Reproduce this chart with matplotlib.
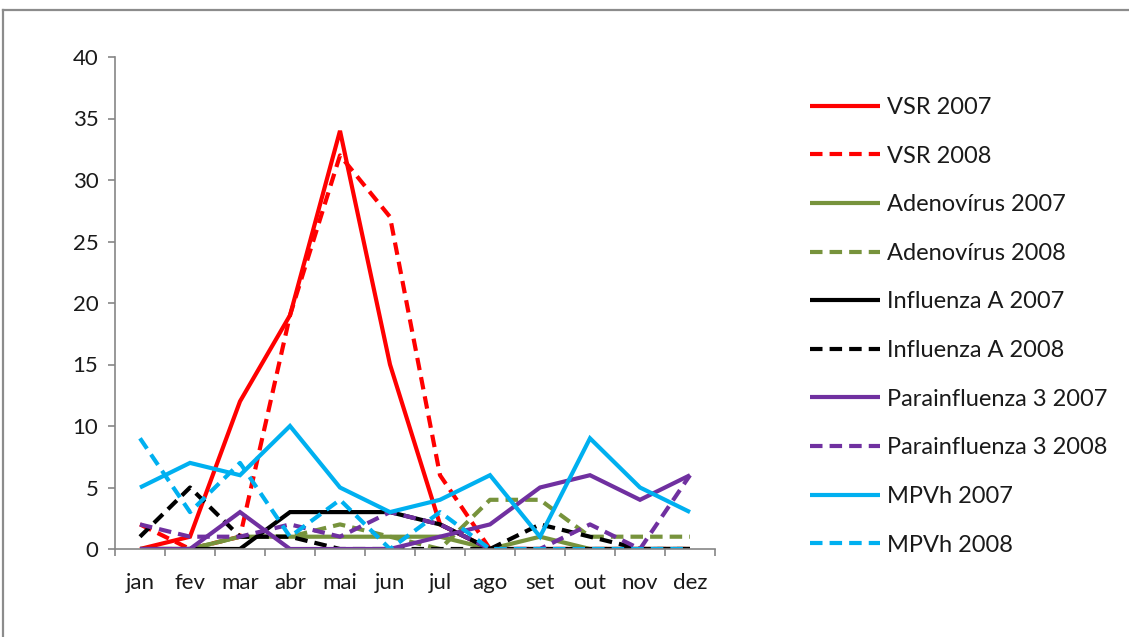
import matplotlib
matplotlib.use("Agg")
import matplotlib.pyplot as plt
from matplotlib.lines import Line2D

plt.rcParams["font.family"] = ["Lato", "DejaVu Sans"]

months = ["jan", "fev", "mar", "abr", "mai", "jun",
          "jul", "ago", "set", "out", "nov", "dez"]

vsr_2007 = [0, 1, 12, 19, 34, 15, 2, 0, 0, 0, 0, 0]
vsr_2008 = [2, 0, 1, 19, 32, 27, 6, 0, 0, 0, 0, 0]
adeno_2007 = [0, 0, 1, 1, 1, 1, 1, 0, 1, 0, 0, 0]
adeno_2008 = [0, 0, 1, 1, 2, 1, 0, 4, 4, 1, 1, 1]
flu_a_2007 = [0, 0, 0, 3, 3, 3, 2, 0, 0, 0, 0, 0]
flu_a_2008 = [1, 5, 1, 1, 0, 0, 0, 0, 2, 1, 0, 0]
para3_2007 = [0, 0, 3, 0, 0, 0, 1, 2, 5, 6, 4, 6]
para3_2008 = [2, 1, 1, 2, 1, 3, 2, 0, 0, 2, 0, 6]
mpvh_2007 = [5, 7, 6, 10, 5, 3, 4, 6, 1, 9, 5, 3]
mpvh_2008 = [9, 3, 7, 1, 4, 0, 3, 0, 0, 0, 0, 0]

series = [
    ("VSR 2007", vsr_2007, "#FF0000", "-"),
    ("VSR 2008", vsr_2008, "#FF0000", "--"),
    ("Adenovírus 2007", adeno_2007, "#77933C", "-"),
    ("Adenovírus 2008", adeno_2008, "#77933C", "--"),
    ("Influenza A 2007", flu_a_2007, "#000000", "-"),
    ("Influenza A 2008", flu_a_2008, "#000000", "--"),
    ("Parainfluenza 3 2007", para3_2007, "#7030A0", "-"),
    ("Parainfluenza 3 2008", para3_2008, "#7030A0", "--"),
    ("MPVh 2007", mpvh_2007, "#00B0F0", "-"),
    ("MPVh 2008", mpvh_2008, "#00B0F0", "--"),
]

W, H = 1129, 637
fig = plt.figure(figsize=(W / 100, H / 100), dpi=100)
ax = fig.add_axes([115 / W, 1 - 549 / H, 600 / W, 492 / H])

x = list(range(len(months)))
for label, values, color, style in series:
    line, = ax.plot(x, values, color=color, lw=3.0, label=label,
                    solid_joinstyle="miter", solid_capstyle="butt")
    if style == "--":
        line.set_dashes([3.0, 1.7])
        line.set_dash_capstyle("butt")

ax.set_xlim(-0.5, len(months) - 0.5)
ax.set_ylim(0, 40)
ax.set_yticks(range(0, 41, 5))
# major ticks sit between the months, labels on the minor ticks
ax.set_xticks([i - 0.5 for i in range(len(months) + 1)])
ax.set_xticklabels([])
ax.set_xticks(x, minor=True)
ax.set_xticklabels(months, minor=True)

grey = "#868686"
text_col = "#1a1a1a"
for side in ("top", "right"):
    ax.spines[side].set_visible(False)
for side in ("left", "bottom"):
    ax.spines[side].set_color(grey)
    ax.spines[side].set_linewidth(1.2)
ax.tick_params(axis="both", which="major", direction="out", length=5,
               color=grey, width=1.2, labelsize=16, labelcolor=text_col)
ax.tick_params(axis="y", pad=7)
ax.tick_params(axis="x", which="minor", length=0, pad=17,
               labelsize=16, labelcolor=text_col)

leg = ax.legend(loc="upper left", bbox_to_anchor=(810 / W, 1 - 97 / H),
                bbox_transform=fig.transFigure, frameon=False,
                fontsize=17, handlelength=2.95, handletextpad=0.3,
                labelspacing=1.17, borderpad=0, borderaxespad=0)
for t in leg.get_texts():
    t.set_color(text_col)

# outer frame of the chart area
fig.add_artist(Line2D([3 / W, 3 / W], [0, 1 - 10 / H], color="#8c8c8c",
                      lw=1.6, transform=fig.transFigure))
fig.add_artist(Line2D([3 / W, 1], [1 - 10 / H, 1 - 10 / H], color="#8c8c8c",
                      lw=1.6, transform=fig.transFigure))

fig.savefig("out.png", dpi=100)
